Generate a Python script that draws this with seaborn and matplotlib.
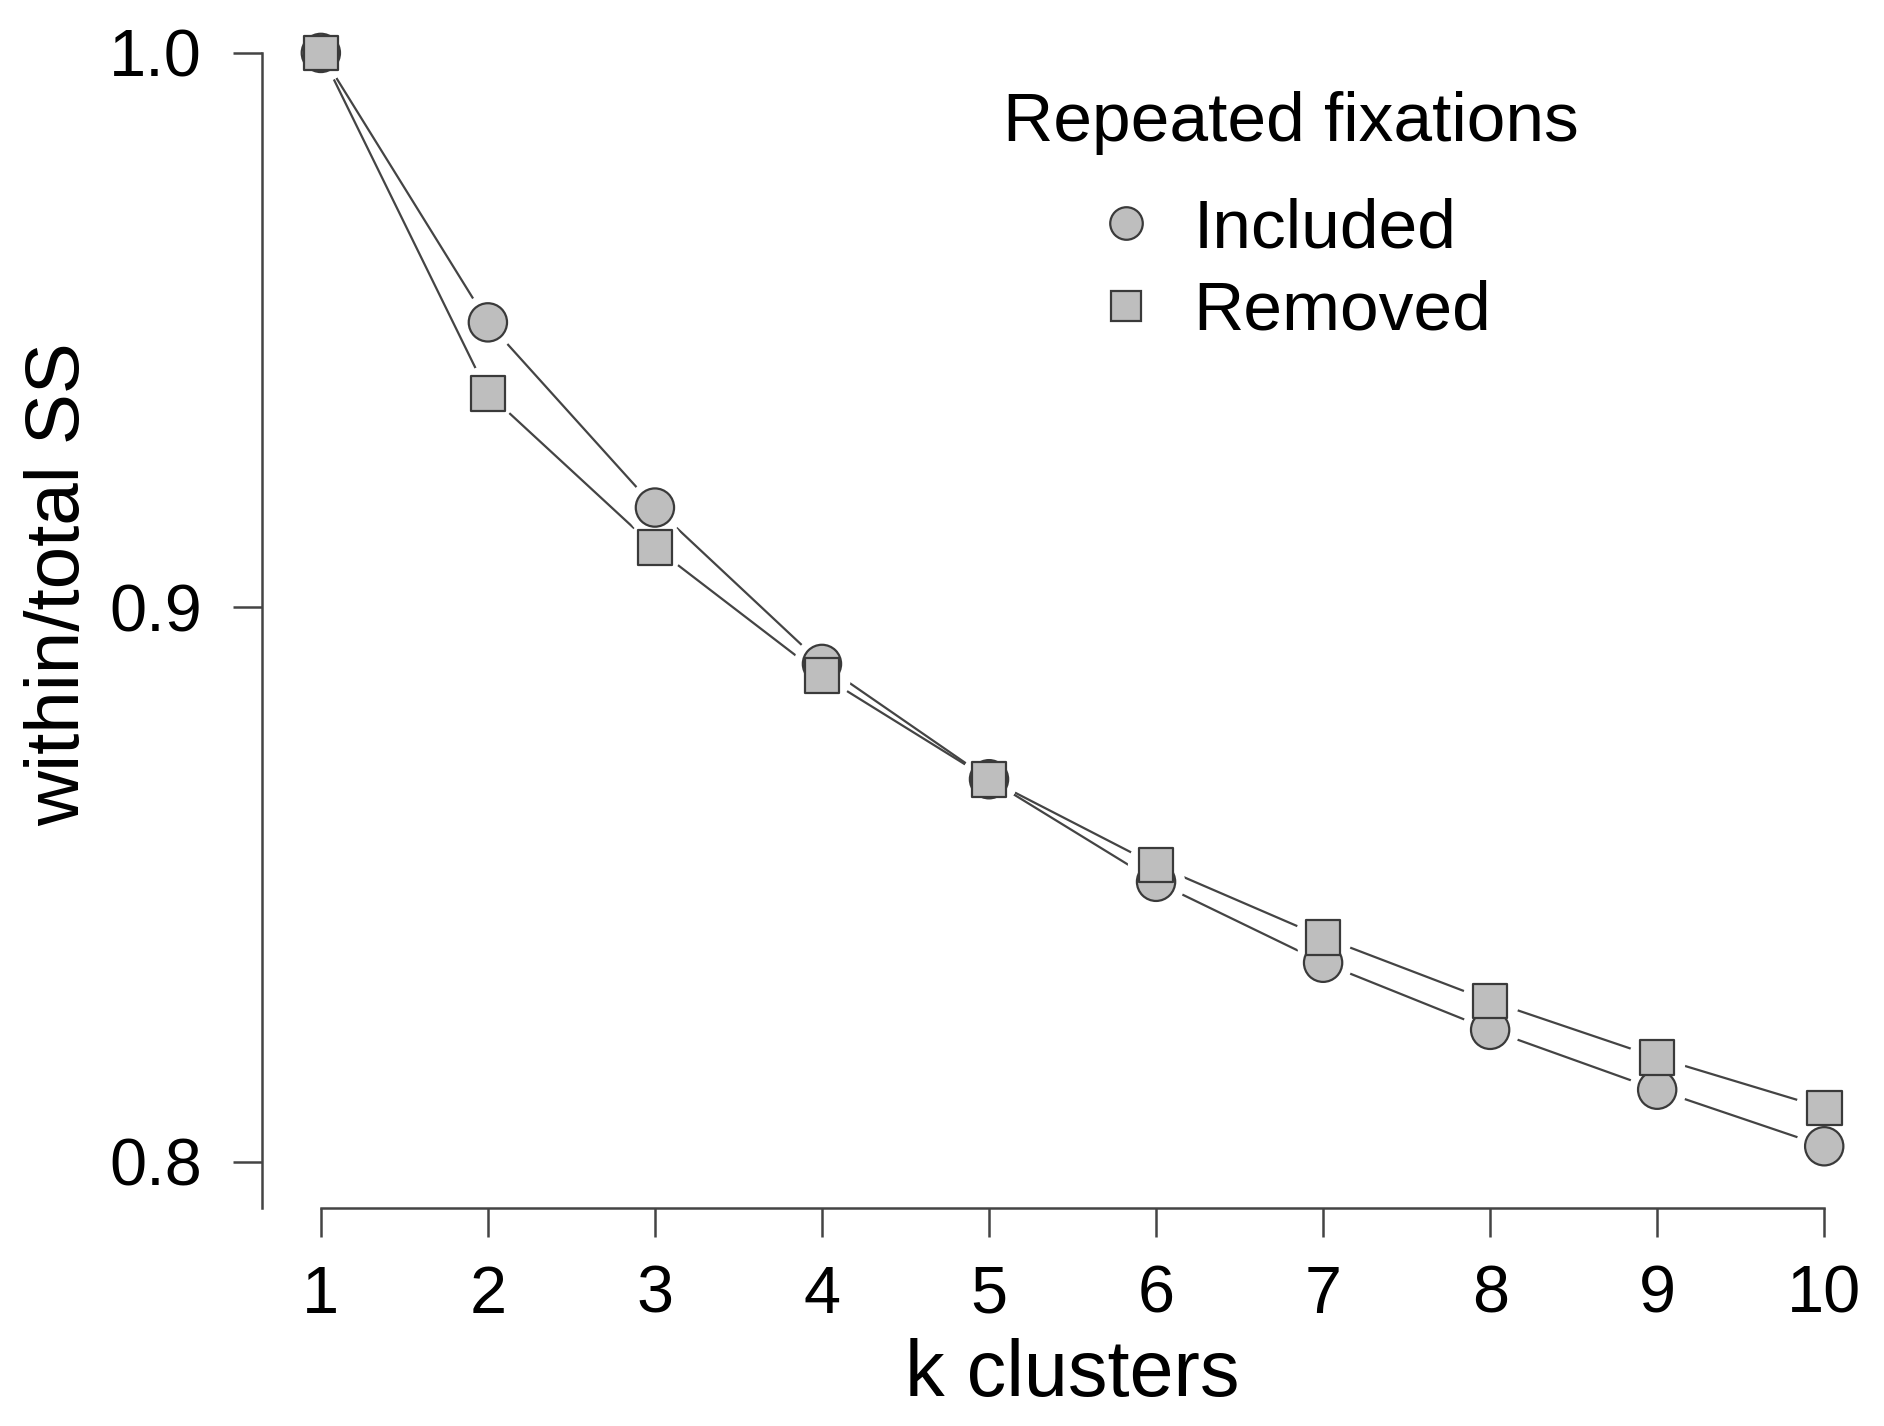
import matplotlib
matplotlib.use("Agg")
import matplotlib.pyplot as plt
import pandas as pd
import seaborn as sns

# k-means within/total sum of squares
k_values = list(range(1, 11))
included = [1.0, 0.9514, 0.918, 0.8898, 0.869, 0.8505, 0.8359, 0.8238, 0.8130, 0.8028]
removed = [1.0, 0.9386, 0.9108, 0.8877, 0.869, 0.8535, 0.8405, 0.8290, 0.8188, 0.8097]
groups = ["Included", "Removed"]
y_ticks = [0.8, 0.9, 1.0]
y_tick_labels = ["0.8", "0.9", "1.0"]

FILL = "#bebebe"
EDGE = "#3a3a3a"

df = pd.DataFrame({
    "k": k_values * 2,
    "ss": included + removed,
    "Repeated fixations": [groups[0]] * len(k_values) + [groups[1]] * len(k_values),
})

sns.set_style("ticks")
plt.rcParams["font.family"] = ["Liberation Sans", "DejaVu Sans"]
plt.rcParams["text.color"] = "black"
plt.rcParams["axes.labelcolor"] = "black"
plt.rcParams["xtick.labelcolor"] = "black"
plt.rcParams["ytick.labelcolor"] = "black"

fig = plt.figure(figsize=(18.84, 14.26), dpi=100)
ax = fig.add_axes([0.139, 0.153, 0.847, 0.841])

# connecting lines (R type="b" look: gaps around the points)
sns.lineplot(data=df, x="k", y="ss", units="Repeated fixations", estimator=None,
             color="#444444", lw=1.6, legend=False, ax=ax, zorder=1)
sns.scatterplot(data=df, x="k", y="ss", color="white", s=1700, marker="o",
                linewidth=0, legend=False, ax=ax, zorder=2)
sns.scatterplot(data=df, x="k", y="ss", style="Repeated fixations",
                size="Repeated fixations",
                markers={"Included": "o", "Removed": "s"},
                sizes={"Included": 760, "Removed": 620},
                color=FILL, edgecolor=EDGE, linewidth=1.6, ax=ax, zorder=3)

ax.set_xlim(0.647, 10.2)
ax.set_ylim(0.7917, 1.008)
ax.set_xticks(k_values)
ax.set_xticklabels([str(k) for k in k_values])
ax.set_yticks(y_ticks)
ax.set_yticklabels(y_tick_labels)
ax.spines["top"].set_visible(False)
ax.spines["right"].set_visible(False)
ax.spines["left"].set_bounds(0.7917, 1.0)
ax.spines["bottom"].set_bounds(1, 10)
for sp in ("left", "bottom"):
    ax.spines[sp].set_color("#444444")
    ax.spines[sp].set_linewidth(1.8)
ax.tick_params(axis="both", length=21, width=1.8, color="#444444",
               labelsize=48, pad=20)
ax.tick_params(axis="y", pad=22)

ax.set_xlabel("k clusters", fontsize=57, labelpad=8)
ax.set_ylabel("within/total SS", fontsize=55, labelpad=10)
ax.xaxis.label.set_x(0.508)
ax.yaxis.label.set_y(0.52)

sns.move_legend(ax, loc="upper center", bbox_to_anchor=(0.645, 0.983),
                frameon=False, fontsize=50, title_fontsize=50,
                markerscale=0.85, handlelength=1.0, handletextpad=0.47,
                labelspacing=0.27)
leg = ax.get_legend()
leg._legend_box.sep = 30  # a bit more room under the legend title

fig.savefig("out.png", dpi=100)
